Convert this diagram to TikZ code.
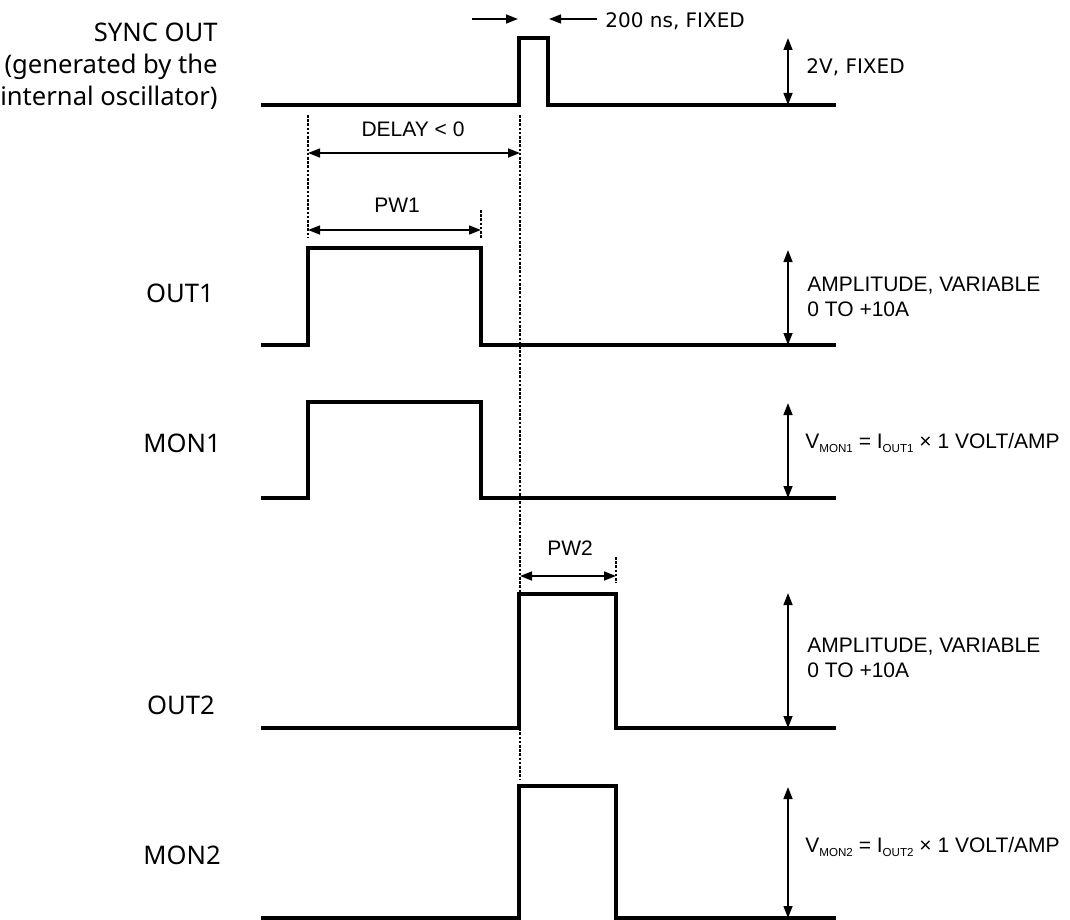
\documentclass[tikz,border=0pt]{standalone}
\usepackage{fontspec}
\setmainfont{DejaVu Sans}
\newfontfamily\arialfont{Liberation Sans}
\newfontfamily\notofont{Noto Sans}
\usepackage{tikz}
\usetikzlibrary{arrows.meta, positioning}
\newcommand{\lowsub}[1]{\raisebox{-2.4pt}{\fontsize{5.8}{6}\selectfont #1}}

\begin{document}
\begin{tikzpicture}[x=0.5pt, y=-0.5pt,
  wave/.style={line width=1.8pt, line join=miter},
  dimarrow/.style={line width=1pt, {Triangle[length=6pt,width=4.4pt]}-{Triangle[length=6pt,width=4.4pt]}},
  onearrow/.style={line width=1pt, -{Triangle[length=6pt,width=4.4pt]}},
  guide/.style={line width=0.8pt, dash pattern=on 1.3pt off 0.8pt},
  siglabel/.style={font=\notofont\fontsize{12.8}{16}\selectfont},
  dimlabel/.style={font=\arialfont\fontsize{10.5}{12.5}\selectfont, align=left, anchor=west, inner sep=0pt},
  fixlabel/.style={font=\fontsize{10}{12}\selectfont, anchor=west, inner sep=0pt}]
  \useasboundingbox (0,0) rectangle (1070,920);
  % Signal names
  \node[siglabel, align=right, anchor=east, inner sep=0pt] (sync) at (218,66) {SYNC OUT\\(generated by the\\internal oscillator)};
  \node[siglabel] (out1) at (180,293) {OUT1};
  \node[siglabel] (mon1) at (182,443) {MON1};
  \node[siglabel] (out2) at (181,705) {OUT2};
  \node[siglabel] (mon2) at (182,855) {MON2};
  % Waveforms
  \draw[wave] (261,105) -- (519,105) -- (519,38) -- (548,38) -- (548,105) -- (836,105);
  \draw[wave] (261,345) -- (308,345) -- (308,248) -- (481,248) -- (481,345) -- (836,345);
  \draw[wave] (261,498) -- (308,498) -- (308,402) -- (481,402) -- (481,498) -- (836,498);
  \draw[wave] (261,728) -- (519,728) -- (519,594) -- (616,594) -- (616,728) -- (836,728);
  \draw[wave] (261,918) -- (519,918) -- (519,786) -- (616,786) -- (616,918) -- (836,918);
  % Guide lines
  \coordinate (g1t) at (308,115); \coordinate (g1b) at (308,238);
  \coordinate (g2t) at (520,115); \coordinate (g2b) at (520,780);
  \coordinate (g3t) at (481,210); \coordinate (g3b) at (481,239);
  \coordinate (g4t) at (616,557); \coordinate (g4b) at (616,583);
  \draw[guide] (g1t) -- (g1b);
  \draw[guide] (g2t) -- (g2b);
  \draw[guide] (g3t) -- (g3b);
  \draw[guide] (g4t) -- (g4b);
  % Pulse width 200 ns
  \coordinate (w1a) at (472,19); \coordinate (w1b) at (518,19);
  \coordinate (w2a) at (597,19); \coordinate (w2b) at (549,19);
  \draw[onearrow] (w1a) -- (w1b);
  \draw[onearrow] (w2a) -- (w2b);
  \node[fixlabel] (fixw) at (605,21) {200 ns, FIXED};
  % Delay, PW1, PW2
  \coordinate (d1) at (308,153); \coordinate (d2) at (520,153);
  \draw[dimarrow] (d1) -- (d2);
  \node[dimlabel, anchor=center] (delay) at (413,129) {DELAY < 0};
  \coordinate (p1a) at (308,230); \coordinate (p1b) at (481,230);
  \draw[dimarrow] (p1a) -- (p1b);
  \node[dimlabel, anchor=center] (pw1) at (397,205) {PW1};
  \coordinate (p2a) at (520,576); \coordinate (p2b) at (616,576);
  \draw[dimarrow] (p2a) -- (p2b);
  \node[dimlabel, anchor=center] (pw2) at (570,548) {PW2};
  % Amplitudes
  \coordinate (a0t) at (788,38);  \coordinate (a0b) at (788,105);
  \coordinate (a1t) at (788,250); \coordinate (a1b) at (788,345);
  \coordinate (a2t) at (788,403); \coordinate (a2b) at (788,498);
  \coordinate (a3t) at (788,593); \coordinate (a3b) at (788,728);
  \coordinate (a4t) at (788,787); \coordinate (a4b) at (788,918);
  \draw[dimarrow] (a0t) -- (a0b);
  \draw[dimarrow] (a1t) -- (a1b);
  \draw[dimarrow] (a2t) -- (a2b);
  \draw[dimarrow] (a3t) -- (a3b);
  \draw[dimarrow] (a4t) -- (a4b);
  \node[fixlabel] (amp0) at (806,67) {2V, FIXED};
  \node[dimlabel] (amp1) at (807,297) {AMPLITUDE, VARIABLE\\0 TO +10A};
  \node[dimlabel] (amp2) at (805,443) {V\lowsub{MON1} = I\lowsub{OUT1} × 1 VOLT/AMP};
  \node[dimlabel] (amp3) at (807,658) {AMPLITUDE, VARIABLE\\0 TO +10A};
  \node[dimlabel] (amp4) at (805,847) {V\lowsub{MON2} = I\lowsub{OUT2} × 1 VOLT/AMP};
\end{tikzpicture}
\end{document}
